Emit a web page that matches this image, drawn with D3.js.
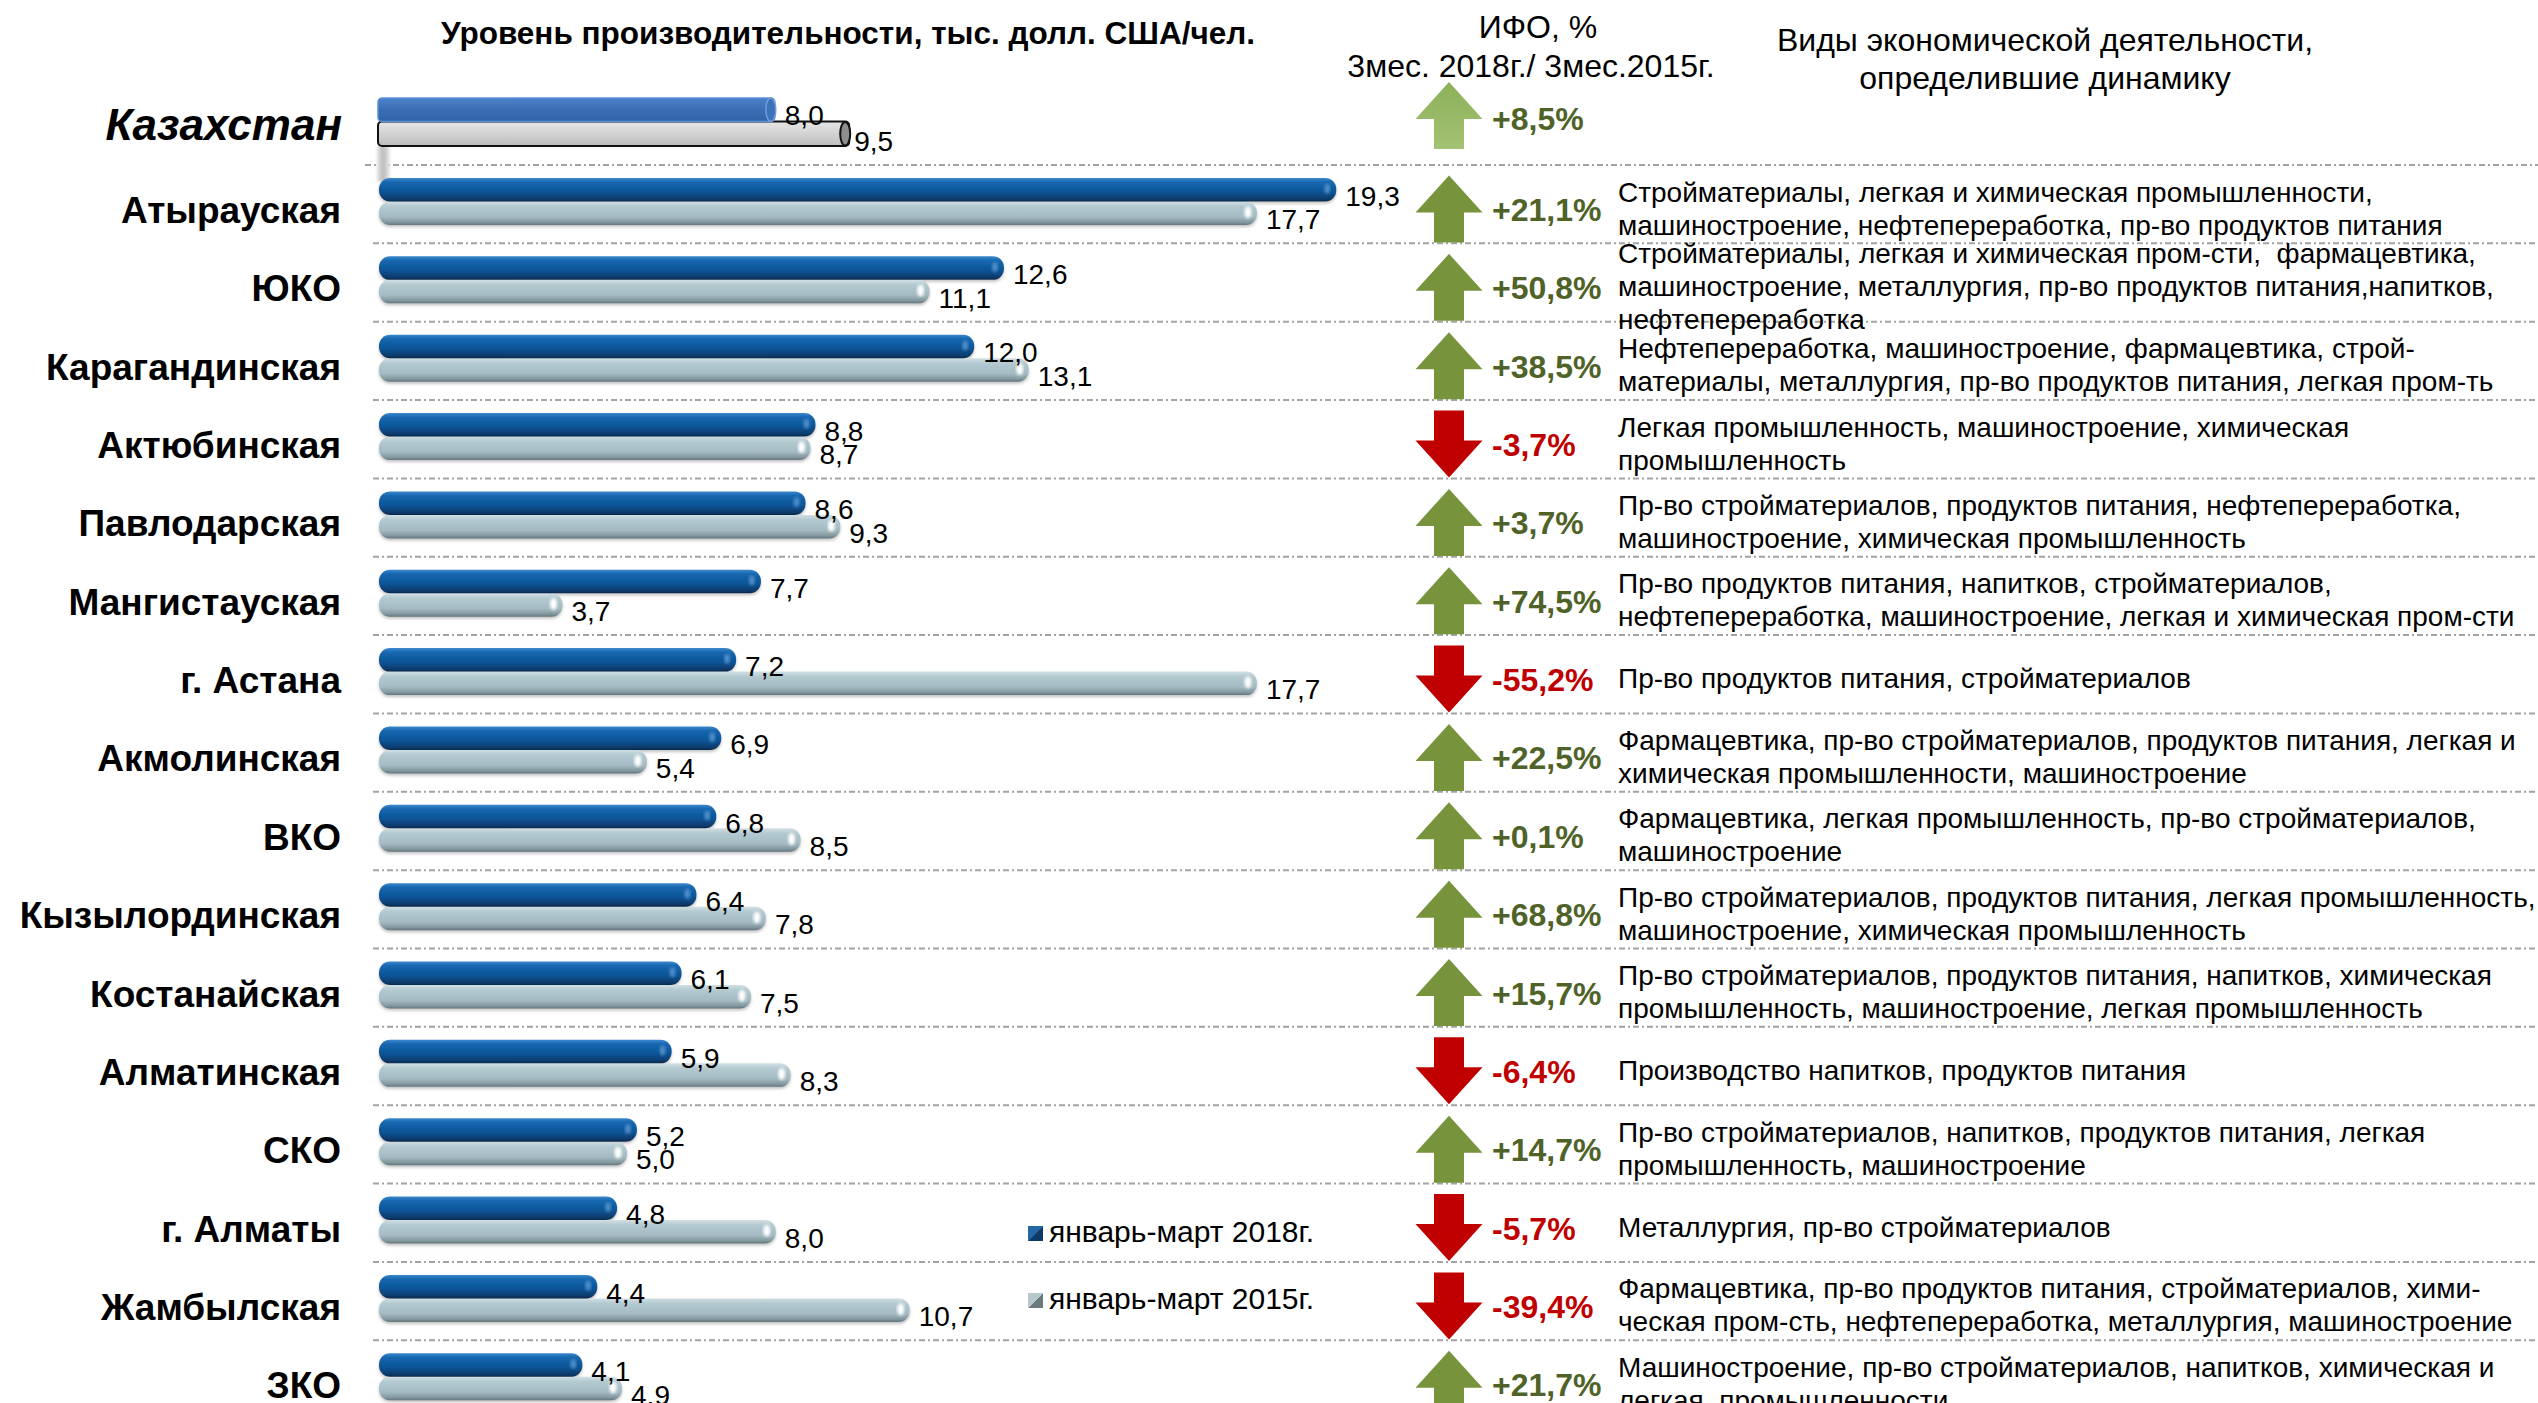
<!DOCTYPE html>
<html>
<head>
<meta charset="utf-8">
<script src="https://cdn.jsdelivr.net/npm/d3@7"></script>
<style>
	body { margin: 0; background: #fff; }
	svg { display: block; }
	text { font-family: "Liberation Sans", Arial, sans-serif; }
</style>
</head>
<body>
<div id="chart"></div>
<script>
// regions, top to bottom
var regions = ['Атырауская', 'ЮКО', 'Карагандинская', 'Актюбинская', 'Павлодарская', 'Мангистауская',
	'г. Астана', 'Акмолинская', 'ВКО', 'Кызылординская', 'Костанайская', 'Алматинская', 'СКО',
	'г. Алматы', 'Жамбылская', 'ЗКО'];
var values2018 = [19.3, 12.6, 12.0, 8.8, 8.6, 7.7, 7.2, 6.9, 6.8, 6.4, 6.1, 5.9, 5.2, 4.8, 4.4, 4.1];
var values2015 = [17.7, 11.1, 13.1, 8.7, 9.3, 3.7, 17.7, 5.4, 8.5, 7.8, 7.5, 8.3, 5.0, 8.0, 10.7, 4.9];
var ifo = [21.1, 50.8, 38.5, -3.7, 3.7, 74.5, -55.2, 22.5, 0.1, 68.8, 15.7, -6.4, 14.7, -5.7, -39.4, 21.7];

var kazName = 'Казахстан';
var kaz2018 = 8.0;
var kaz2015 = 9.5;
var kazIfo = 8.5;

var seriesNames = ['январь-март 2018г.', 'январь-март 2015г.'];

var descs = [
	['Стройматериалы, легкая и химическая промышленности,', 'машиностроение, нефтепереработка, пр-во продуктов питания'],
	['Стройматериалы, легкая и химическая пром-сти,  фармацевтика,', 'машиностроение, металлургия, пр-во продуктов питания,напитков,', 'нефтепереработка'],
	['Нефтепереработка, машиностроение, фармацевтика, строй-', 'материалы, металлургия, пр-во продуктов питания, легкая пром-ть'],
	['Легкая промышленность, машиностроение, химическая', 'промышленность'],
	['Пр-во стройматериалов, продуктов питания, нефтепереработка,', 'машиностроение, химическая промышленность'],
	['Пр-во продуктов питания, напитков, стройматериалов,', 'нефтепереработка, машиностроение, легкая и химическая пром-сти'],
	['Пр-во продуктов питания, стройматериалов'],
	['Фармацевтика, пр-во стройматериалов, продуктов питания, легкая и', 'химическая промышленности, машиностроение'],
	['Фармацевтика, легкая промышленность, пр-во стройматериалов,', 'машиностроение'],
	['Пр-во стройматериалов, продуктов питания, легкая промышленность,', 'машиностроение, химическая промышленность'],
	['Пр-во стройматериалов, продуктов питания, напитков, химическая', 'промышленность, машиностроение, легкая промышленность'],
	['Производство напитков, продуктов питания'],
	['Пр-во стройматериалов, напитков, продуктов питания, легкая', 'промышленность, машиностроение'],
	['Металлургия, пр-во стройматериалов'],
	['Фармацевтика, пр-во продуктов питания, стройматериалов, хими-', 'ческая пром-сть, нефтепереработка, металлургия, машиностроение'],
	['Машиностроение, пр-во стройматериалов, напитков, химическая и', 'легкая  промышленности']
];

var titleText = 'Уровень производительности, тыс. долл. США/чел.';
var ifoHeader = ['ИФО, %', '3мес. 2018г./ 3мес.2015г.'];
var descHeader = ['Виды экономической деятельности,', 'определившие динамику'];

var W = 2538, H = 1403;
var barH = 23.5;
var kazTop = 98;
var arrowX = 1449;
var pctX = 1492;
var descX = 1618;

var fmt = d3.format('.1f');
function comma(v) {
	// d3 uses a real minus sign, the slide uses a hyphen
	return fmt(v).replace('.', ',').replace('\u2212', '-');
}
function pct(v) {
	return (v >= 0 ? '+' : '') + comma(v) + '%';
}

var x = d3.scaleLinear().domain([0, 20]).range([379, 1371]);
var y = d3.scaleBand().domain(regions).range([178, 178 + 78.35 * regions.length]);

var rows = regions.map(function (r, i) {
	return {name: r, v18: values2018[i], v15: values2015[i], ifo: ifo[i], desc: descs[i]};
});

var svg = d3.select('#chart').append('svg')
	.attr('width', W)
	.attr('height', H);

svg.append('rect').attr('width', W).attr('height', H).attr('fill', '#fff');

var defs = svg.append('defs');

function vGrad(id, stops) {
	var g = defs.append('linearGradient').attr('id', id)
		.attr('x1', 0).attr('y1', 0).attr('x2', 0).attr('y2', 1);
	stops.forEach(function (s) {
		g.append('stop').attr('offset', s[0]).attr('stop-color', s[1]);
	});
}
vGrad('blueBar', [['0%', '#3d88cc'], ['18%', '#1567b0'], ['60%', '#0c5496'], ['88%', '#083c6e'], ['100%', '#062a4d']]);
vGrad('grayBar', [['0%', '#d2e0e5'], ['20%', '#b4cad1'], ['65%', '#a5bbc3'], ['88%', '#83989f'], ['100%', '#63767c']]);
vGrad('kazBlue', [['0%', '#4a82c8'], ['50%', '#3a6fb6'], ['100%', '#2f62a6']]);
vGrad('kazGray', [['0%', '#e6e6e6'], ['45%', '#d4d4d4'], ['100%', '#bdbdbd']]);
vGrad('kazArrow', [['0%', '#8cb05a'], ['100%', '#a3c273']]);

var sh = defs.append('linearGradient').attr('id', 'kazShadow')
	.attr('x1', 0).attr('y1', 0).attr('x2', 1).attr('y2', 0);
sh.append('stop').attr('offset', '0%').attr('stop-color', '#e4e4e4');
sh.append('stop').attr('offset', '50%').attr('stop-color', '#b9b9b9');
sh.append('stop').attr('offset', '100%').attr('stop-color', '#ececec');

var lg18 = defs.append('linearGradient').attr('id', 'leg18')
	.attr('x1', 0).attr('y1', 0).attr('x2', 1).attr('y2', 1);
lg18.append('stop').attr('offset', '50%').attr('stop-color', '#2566a6');
lg18.append('stop').attr('offset', '50%').attr('stop-color', '#0d3a66');
var lg15 = defs.append('linearGradient').attr('id', 'leg15')
	.attr('x1', 0).attr('y1', 0).attr('x2', 1).attr('y2', 1);
lg15.append('stop').attr('offset', '50%').attr('stop-color', '#b7c7cb');
lg15.append('stop').attr('offset', '50%').attr('stop-color', '#6c7a7f');

defs.append('filter').attr('id', 'soft')
	.append('feGaussianBlur').attr('stdDeviation', 1.4);
defs.append('filter').attr('id', 'barShadow')
	.attr('x', '-5%').attr('y', '-30%').attr('width', '110%').attr('height', '170%')
	.append('feDropShadow')
	.attr('dx', 0).attr('dy', 2).attr('stdDeviation', 1.5)
	.attr('flood-color', '#777').attr('flood-opacity', 0.45);

// ---- titles
svg.append('text')
	.attr('x', 848).attr('y', 44)
	.attr('text-anchor', 'middle')
	.attr('font-size', 31.5).attr('font-weight', 'bold')
	.text(titleText);

svg.selectAll('.ifoHead').data(ifoHeader).enter().append('text')
	.attr('class', 'ifoHead')
	.attr('x', function (d, i) { return i ? 1531 : 1538; })
	.attr('y', function (d, i) { return 38 + i * 39; })
	.attr('text-anchor', 'middle')
	.attr('font-size', 32)
	.text(function (d) { return d; });

svg.selectAll('.descHead').data(descHeader).enter().append('text')
	.attr('class', 'descHead')
	.attr('x', 2045)
	.attr('y', function (d, i) { return 51 + i * 38; })
	.attr('text-anchor', 'middle')
	.attr('font-size', 32)
	.text(function (d) { return d; });

// ---- separators (dash-dot)
svg.selectAll('.sep').data(regions).enter().append('line')
	.attr('class', 'sep')
	.attr('x1', function (d, i) { return i ? 373 : 365; })
	.attr('x2', W)
	.attr('y1', function (d) { return y(d) - 13; })
	.attr('y2', function (d) { return y(d) - 13; })
	.attr('stroke', '#a3a3a3')
	.attr('stroke-width', 2)
	.attr('stroke-dasharray', '6,3,2,3');

// ---- arrows
function arrowPath(cx, cy, up) {
	var w = 67, h = 67, head = 37, sw = 30;
	var pts;
	if (up) {
		var t = cy - h / 2;
		pts = [[cx, t], [cx + w / 2, t + head], [cx + sw / 2, t + head], [cx + sw / 2, t + h],
			[cx - sw / 2, t + h], [cx - sw / 2, t + head], [cx - w / 2, t + head]];
	} else {
		var b = cy + h / 2;
		pts = [[cx, b], [cx + w / 2, b - head], [cx + sw / 2, b - head], [cx + sw / 2, b - h],
			[cx - sw / 2, b - h], [cx - sw / 2, b - head], [cx - w / 2, b - head]];
	}
	return 'M' + pts.join('L') + 'Z';
}

// ---- Kazakhstan block
var kaz = svg.append('g').attr('class', 'kaz');
kaz.append('rect')
	.attr('x', x(0) - 2).attr('y', kazTop + 2 * barH)
	.attr('width', 13).attr('height', 37)
	.attr('fill', 'url(#kazShadow)')
	.attr('filter', 'url(#soft)');

kaz.append('rect')
	.attr('x', x(0) - 1).attr('y', kazTop + barH)
	.attr('width', x(kaz2015) - x(0))
	.attr('height', barH + 1)
	.attr('rx', 4)
	.attr('fill', 'url(#kazGray)')
	.attr('stroke', '#111').attr('stroke-width', 2);
kaz.append('ellipse')
	.attr('cx', x(kaz2015) - 5).attr('cy', kazTop + barH * 1.5 + 0.5)
	.attr('rx', 5).attr('ry', barH / 2)
	.attr('fill', '#8e8e8e')
	.attr('stroke', '#111').attr('stroke-width', 2);

kaz.append('rect')
	.attr('x', x(0) - 1).attr('y', kazTop)
	.attr('width', x(kaz2018) - x(0))
	.attr('height', barH)
	.attr('rx', 4)
	.attr('fill', 'url(#kazBlue)')
	.attr('stroke', '#5d8fd2').attr('stroke-width', 1.5);
kaz.append('ellipse')
	.attr('cx', x(kaz2018) - 5).attr('cy', kazTop + barH / 2)
	.attr('rx', 5).attr('ry', barH / 2)
	.attr('fill', '#3c72b8')
	.attr('stroke', '#6f9edb').attr('stroke-width', 1.5);

kaz.append('text')
	.attr('x', x(kaz2018) + 9).attr('y', kazTop + barH / 2 + 15)
	.attr('font-size', 28)
	.text(comma(kaz2018));
kaz.append('text')
	.attr('x', x(kaz2015) + 4).attr('y', kazTop + barH * 1.5 + 18)
	.attr('font-size', 28)
	.text(comma(kaz2015));

kaz.append('text')
	.attr('x', 342).attr('y', kazTop + 42)
	.attr('text-anchor', 'end')
	.attr('font-size', 44).attr('font-weight', 'bold').attr('font-style', 'italic')
	.text(kazName);

kaz.append('path')
	.attr('d', arrowPath(arrowX, kazTop + 17.5, kazIfo >= 0))
	.attr('fill', 'url(#kazArrow)');
kaz.append('text')
	.attr('x', pctX).attr('y', kazTop + 32)
	.attr('font-size', 32).attr('font-weight', 'bold')
	.attr('fill', kazIfo >= 0 ? '#4f6228' : '#c00000')
	.text(pct(kazIfo));

// ---- region rows
var row = svg.selectAll('.row').data(rows).enter().append('g')
	.attr('class', 'row')
	.attr('transform', function (d) { return 'translate(0,' + y(d.name) + ')'; });

row.append('text')
	.attr('x', 341).attr('y', 45)
	.attr('text-anchor', 'end')
	.attr('font-size', 37).attr('font-weight', 'bold')
	.text(function (d) { return d.name; });

var bars = row.append('g').attr('filter', 'url(#barShadow)');

bars.append('rect')
	.attr('x', x(0)).attr('y', barH)
	.attr('width', function (d) { return x(d.v15) - x(0); })
	.attr('height', barH)
	.attr('rx', 11).attr('ry', 11)
	.attr('fill', 'url(#grayBar)');

bars.append('rect')
	.attr('x', x(0)).attr('y', 0)
	.attr('width', function (d) { return x(d.v18) - x(0); })
	.attr('height', barH)
	.attr('rx', 11).attr('ry', 11)
	.attr('fill', 'url(#blueBar)');

row.append('ellipse')
	.attr('cx', function (d) { return x(d.v15) - 9; })
	.attr('cy', barH * 1.5 - 1)
	.attr('rx', 3.5).attr('ry', 6)
	.attr('fill', '#fff')
	.attr('filter', 'url(#soft)');

row.append('ellipse')
	.attr('cx', function (d) { return x(d.v18) - 9; })
	.attr('cy', barH / 2 - 1)
	.attr('rx', 3).attr('ry', 5)
	.attr('fill', '#5d9ad6')
	.attr('opacity', 0.8)
	.attr('filter', 'url(#soft)');

row.append('text')
	.attr('x', function (d) { return x(d.v18) + 9; })
	.attr('y', barH / 2 + 16)
	.attr('font-size', 28)
	.text(function (d) { return comma(d.v18); });

row.append('text')
	.attr('x', function (d) { return x(d.v15) + 9; })
	.attr('y', barH * 1.5 + 16)
	.attr('font-size', 28)
	.text(function (d) { return comma(d.v15); });

row.append('path')
	.attr('d', function (d) { return arrowPath(arrowX, 31, d.ifo >= 0); })
	.attr('fill', function (d) { return d.ifo >= 0 ? '#77933c' : '#c00000'; });

row.append('text')
	.attr('x', pctX).attr('y', 43)
	.attr('font-size', 32).attr('font-weight', 'bold')
	.attr('fill', function (d) { return d.ifo >= 0 ? '#4f6228' : '#c00000'; })
	.text(function (d) { return pct(d.ifo); });

row.each(function (d) {
	var g = d3.select(this);
	var n = d.desc.length;
	g.selectAll('.desc').data(d.desc).enter().append('text')
		.attr('class', 'desc')
		.attr('x', descX)
		.attr('y', function (t, j) { return 30 - (n - 1) * 16.5 + j * 33 + 10; })
		.attr('font-size', 28)
		.attr('xml:space', 'preserve')
		.style('white-space', 'pre')
		.text(function (t) { return t; });
});

// ---- legend
var legend = svg.selectAll('.legend').data(seriesNames).enter().append('g')
	.attr('class', 'legend')
	.attr('transform', function (d, i) { return 'translate(1028,' + (1226 + i * 67) + ')'; });
legend.append('rect')
	.attr('width', 15).attr('height', 15)
	.attr('fill', function (d, i) { return i ? 'url(#leg15)' : 'url(#leg18)'; });
legend.append('text')
	.attr('x', 21).attr('y', 16)
	.attr('font-size', 30)
	.text(function (d) { return d; });
</script>
</body>
</html>
